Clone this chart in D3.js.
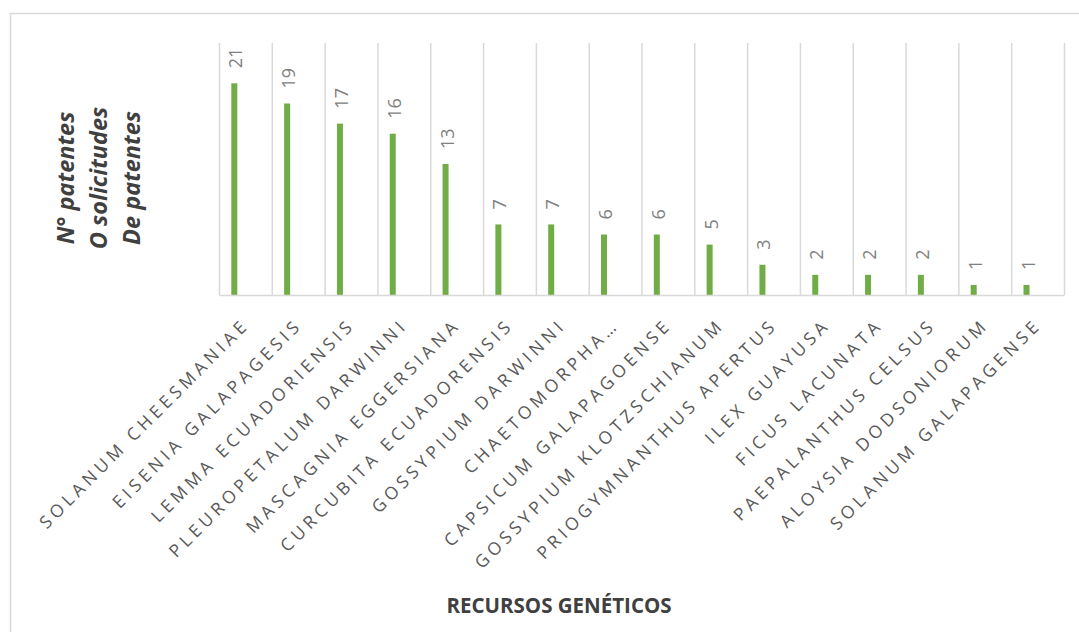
<!DOCTYPE html>
<html>
<head>
<meta charset="utf-8">
<script src="https://cdn.jsdelivr.net/npm/d3@7"></script>
<style>
  body { margin: 0; background: #fff; }
  svg { display: block; }
</style>
</head>
<body>
<svg id="chart" width="1079" height="632"></svg>
<script>
var categories = [
    "SOLANUM CHEESMANIAE", "EISENIA GALAPAGESIS", "LEMMA ECUADORIENSIS",
    "PLEUROPETALUM DARWINNI", "MASCAGNIA EGGERSIANA", "CURCUBITA ECUADORENSIS",
    "GOSSYPIUM DARWINNI", "CHAETOMORPHA…", "CAPSICUM GALAPAGOENSE",
    "GOSSYPIUM KLOTZSCHIANUM", "PRIOGYMNANTHUS APERTUS", "ILEX GUAYUSA",
    "FICUS LACUNATA", "PAEPALANTHUS CELSUS", "ALOYSIA DODSONIORUM",
    "SOLANUM GALAPAGENSE"
];
var patentes = [21, 19, 17, 16, 13, 7, 7, 6, 6, 5, 3, 2, 2, 2, 1, 1];
var yTitleLines = ["N° patentes", "O solicitudes", "De patentes"];
var xTitle = "RECURSOS GENÉTICOS";

var svg = d3.select("#chart");

// chart frame
svg.append("rect")
    .attr("x", 10.5).attr("y", 13.5)
    .attr("width", 1100).attr("height", 700)
    .attr("fill", "none").attr("stroke", "#d9d9d9").attr("stroke-width", 1.5);

let cs = {
    x: d3.scaleBand().domain(categories).range([219, 1064]),
    y: d3.scaleLinear().domain([0, 25]).range([295, 43])
};
let bw = cs.x.bandwidth(),
    barW = 6,
    barX = d => cs.x(d) + bw * 0.29;

// vertical gridlines between categories
let edges = categories.map(c => cs.x(c)).concat([cs.x.range()[1]]);
svg.append("g").selectAll("line").data(edges).join("line")
    .attr("x1", d => d + 0.5).attr("x2", d => d + 0.5)
    .attr("y1", cs.y(25)).attr("y2", cs.y(0))
    .attr("stroke", "#d9d9d9").attr("stroke-width", 1.5);

// bars
svg.append("g").selectAll("rect").data(categories).join("rect")
    .attr("x", d => barX(d) - barW / 2)
    .attr("y", (d, i) => cs.y(patentes[i]))
    .attr("width", barW)
    .attr("height", (d, i) => cs.y(0) - cs.y(patentes[i]))
    .attr("fill", "#70ad47");

// x axis (baseline + labels)
let xAxis = d3.axisBottom(cs.x).tickSize(0).tickPadding(0);
let gx = svg.append("g").attr("transform", "translate(0," + cs.y(0) + ")").call(xAxis);
gx.select(".domain").attr("stroke", "#d9d9d9").attr("stroke-width", 1.5);
gx.selectAll(".tick text")
    .attr("font-family", "'Open Sans', sans-serif")
    .attr("font-size", 17.5)
    .attr("letter-spacing", "4.2px")
    .attr("fill", "#595959")
    .attr("text-anchor", "end")
    .attr("dy", 0)
    .attr("y", 0)
    .attr("transform", "translate(5,31) rotate(-45)");

// data labels
svg.append("g").selectAll("text").data(categories).join("text")
    .attr("transform", (d, i) => "translate(" + (barX(d) + 1) + "," + (cs.y(patentes[i]) - 15) + ") rotate(-90)")
    .attr("text-anchor", "start")
    .attr("dominant-baseline", "central")
    .attr("font-family", "'Open Sans', sans-serif")
    .attr("font-size", 18)
    .attr("fill", "#808080")
    .text((d, i) => patentes[i]);

// y axis title
let yt = svg.append("text")
    .attr("transform", "translate(66,178) rotate(-90)")
    .attr("text-anchor", "middle")
    .attr("font-family", "'Open Sans', sans-serif")
    .attr("font-size", 23.5)
    .attr("font-weight", "bold")
    .attr("font-style", "italic")
    .attr("fill", "#404040");
yt.selectAll("tspan").data(yTitleLines).join("tspan")
    .attr("x", 0).attr("dy", (d, i) => i ? 33 : 8)
    .text(d => d);

// x axis title
svg.append("text")
    .attr("x", 559).attr("y", 613)
    .attr("text-anchor", "middle")
    .attr("font-family", "'Open Sans', sans-serif")
    .attr("font-size", 20.5)
    .attr("font-weight", "bold")
    .attr("fill", "#404040")
    .text(xTitle);
</script>
</body>
</html>
